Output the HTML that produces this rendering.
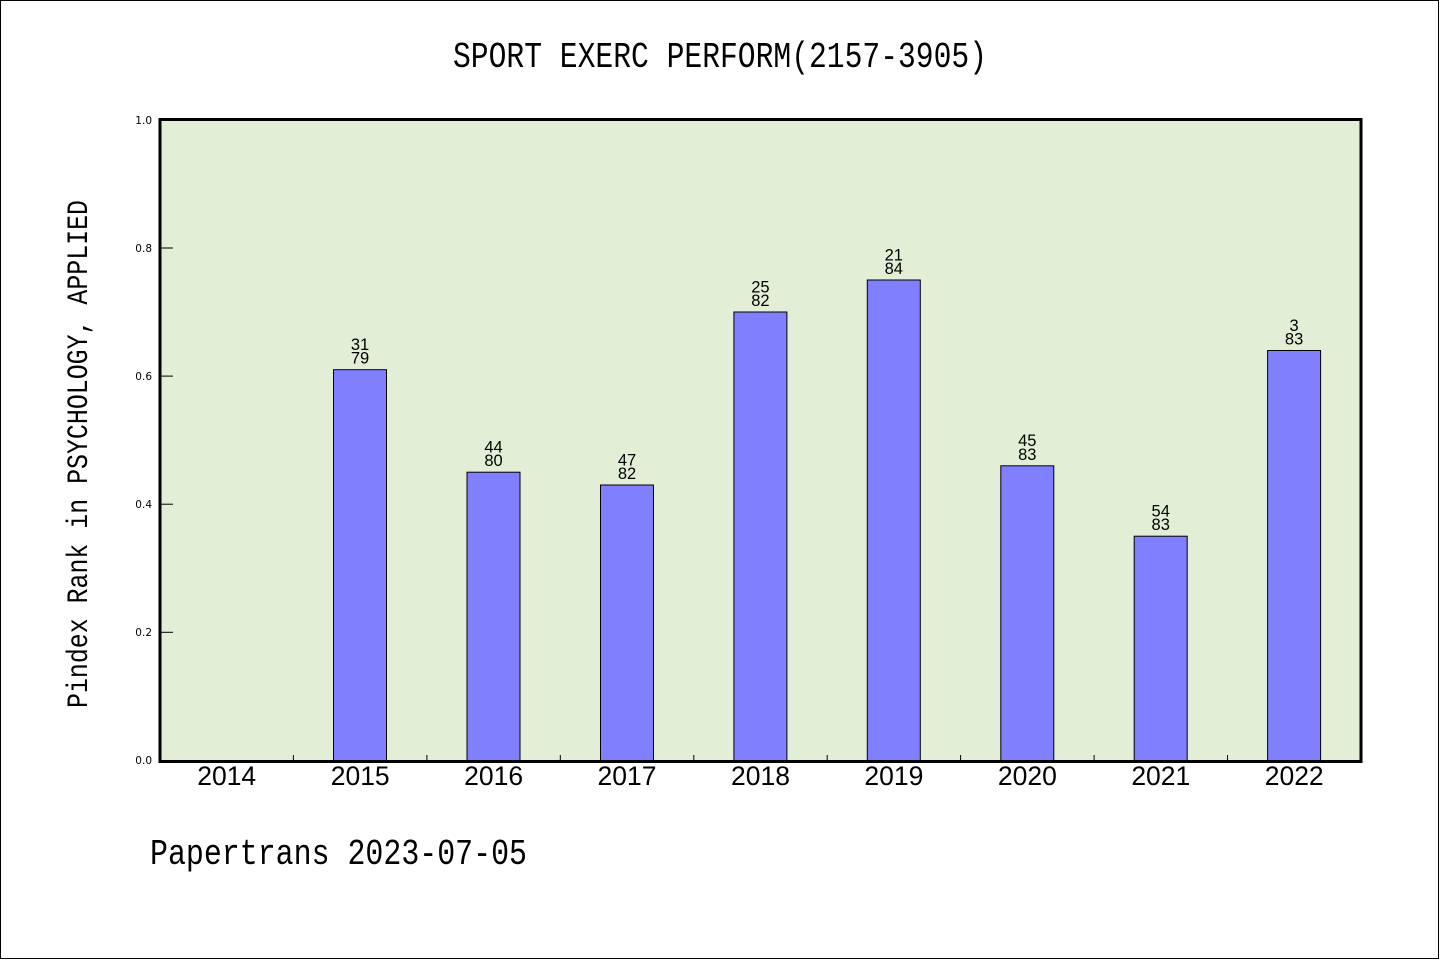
<!DOCTYPE html>
<html>
<head>
<meta charset="utf-8">
<style>
  html, body { margin: 0; padding: 0; background: #ffffff; }
  body { width: 1440px; height: 960px; overflow: hidden; }
  svg { display: block; }
  .mono { font-family: "Liberation Mono", "DejaVu Sans Mono", monospace; }
  .sans { font-family: "Liberation Sans", "DejaVu Sans", sans-serif; }
  .dv { font-family: "DejaVu Sans", "Liberation Sans", sans-serif; }
</style>
</head>
<body>
<svg width="1440" height="960" viewBox="0 0 1440 960" xmlns="http://www.w3.org/2000/svg">
  <rect x="0" y="0" width="1440" height="960" fill="#ffffff"/>
  <rect x="0.5" y="0.5" width="1438" height="958" fill="none" stroke="#000" stroke-width="1"/>

  <!-- title -->
  <text class="mono" x="453" y="67" font-size="36" textLength="534" lengthAdjust="spacingAndGlyphs" fill="#000">SPORT EXERC PERFORM(2157-3905)</text>

  <!-- plot background -->
  <rect x="160" y="119.5" width="1201" height="642" fill="#e2efd6"/>

  <!-- bars -->
  <g fill="#8080ff" stroke="#000" stroke-width="1">
    <rect x="333.5" y="369.7" width="53" height="391"/>
    <rect x="467" y="472.2" width="53" height="289"/>
    <rect x="600.5" y="485" width="53" height="276"/>
    <rect x="733.9" y="312" width="53" height="449"/>
    <rect x="867.3" y="280" width="53" height="481"/>
    <rect x="1000.8" y="465.8" width="53" height="295"/>
    <rect x="1134.2" y="536.2" width="53" height="225"/>
    <rect x="1267.6" y="350.5" width="53" height="411"/>
  </g>

  <!-- bar labels -->
  <g class="sans" font-size="16.5" text-anchor="middle" fill="#000">
    <text x="360" y="350">31</text><text x="360" y="363.7">79</text>
    <text x="493.5" y="452.5">44</text><text x="493.5" y="466.2">80</text>
    <text x="627" y="465.3">47</text><text x="627" y="479">82</text>
    <text x="760.4" y="292.3">25</text><text x="760.4" y="306">82</text>
    <text x="893.8" y="260.3">21</text><text x="893.8" y="274">84</text>
    <text x="1027.3" y="446.1">45</text><text x="1027.3" y="459.8">83</text>
    <text x="1160.7" y="516.5">54</text><text x="1160.7" y="530.2">83</text>
    <text x="1294.1" y="330.8">3</text><text x="1294.1" y="344.5">83</text>
  </g>

  <!-- y ticks -->
  <g stroke="#000" stroke-width="1">
    <line x1="160" y1="632.3" x2="173" y2="632.3"/>
    <line x1="160" y1="504.2" x2="173" y2="504.2"/>
    <line x1="160" y1="376.1" x2="173" y2="376.1"/>
    <line x1="160" y1="248" x2="173" y2="248"/>
  </g>
  <!-- x ticks -->
  <g stroke="#000" stroke-width="1">
    <line x1="293.4" y1="755" x2="293.4" y2="760"/>
    <line x1="426.9" y1="755" x2="426.9" y2="760"/>
    <line x1="560.3" y1="755" x2="560.3" y2="760"/>
    <line x1="693.8" y1="755" x2="693.8" y2="760"/>
    <line x1="827.2" y1="755" x2="827.2" y2="760"/>
    <line x1="960.6" y1="755" x2="960.6" y2="760"/>
    <line x1="1094.1" y1="755" x2="1094.1" y2="760"/>
    <line x1="1227.5" y1="755" x2="1227.5" y2="760"/>
  </g>

  <!-- frame -->
  <rect x="160" y="119.5" width="1201" height="642" fill="none" stroke="#000" stroke-width="3"/>

  <!-- y tick labels -->
  <g class="dv" font-size="10.5" text-anchor="end" fill="#000">
    <text x="152" y="764">0.0</text>
    <text x="152" y="636">0.2</text>
    <text x="152" y="508">0.4</text>
    <text x="152" y="380">0.6</text>
    <text x="152" y="252">0.8</text>
    <text x="152" y="124">1.0</text>
  </g>

  <!-- x tick labels -->
  <g class="sans" font-size="26.5" text-anchor="middle" fill="#000">
    <text x="226.7" y="785">2014</text>
    <text x="360.2" y="785">2015</text>
    <text x="493.6" y="785">2016</text>
    <text x="627" y="785">2017</text>
    <text x="760.5" y="785">2018</text>
    <text x="893.9" y="785">2019</text>
    <text x="1027.4" y="785">2020</text>
    <text x="1160.8" y="785">2021</text>
    <text x="1294.2" y="785">2022</text>
  </g>

  <!-- y axis label -->
  <text class="mono" x="-254" y="0" font-size="30" textLength="508" lengthAdjust="spacingAndGlyphs" fill="#000" transform="translate(87,454) rotate(-90)">Pindex Rank in PSYCHOLOGY, APPLIED</text>

  <!-- footer -->
  <text class="mono" x="150" y="864" font-size="36" textLength="377" lengthAdjust="spacingAndGlyphs" fill="#000">Papertrans 2023-07-05</text>
</svg>
</body>
</html>
